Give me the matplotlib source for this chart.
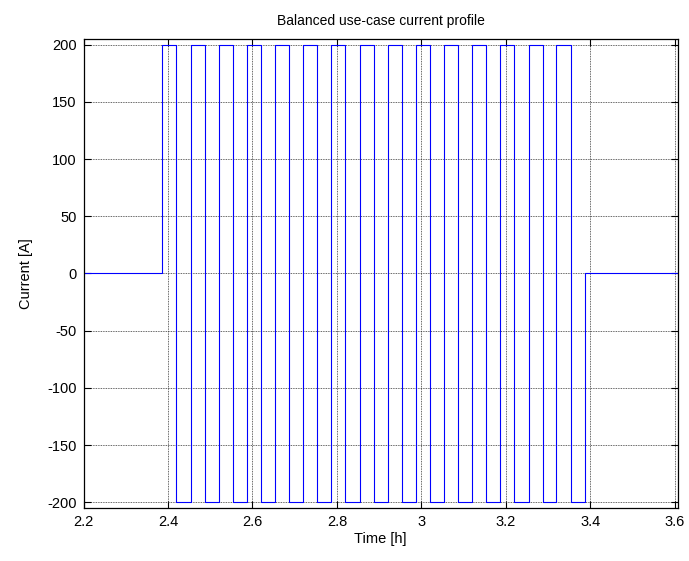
import matplotlib
matplotlib.use("Agg")
import matplotlib.pyplot as plt

# Switching instants of the current profile [h]
switch_times = [2.200, 2.387, 2.420, 2.454, 2.487, 2.520, 2.554, 2.587, 2.620,
                2.654, 2.687, 2.720, 2.754, 2.787, 2.820, 2.854, 2.887, 2.920,
                2.954, 2.987, 3.020, 3.054, 3.087, 3.120, 3.154, 3.187, 3.220,
                3.254, 3.287, 3.320, 3.354, 3.387, 3.620]
# Current held from each switching instant onward [A]
current_levels = [0, 200, -200, 200, -200, 200, -200, 200, -200,
                  200, -200, 200, -200, 200, -200, 200, -200, 200,
                  -200, 200, -200, 200, -200, 200, -200, 200, -200,
                  200, -200, 200, -200, 0, 0]

x_ticks = [2.2, 2.4, 2.6, 2.8, 3.0, 3.2, 3.4, 3.6]
x_tick_labels = ["2.2", "2.4", "2.6", "2.8", "3", "3.2", "3.4", "3.6"]
y_ticks = [-200, -150, -100, -50, 0, 50, 100, 150, 200]

plt.rcParams['font.family'] = ['Liberation Sans', 'DejaVu Sans']
plt.rcParams['font.size'] = 10
plt.rcParams['axes.unicode_minus'] = False

fig = plt.figure(figsize=(6.89, 5.61), dpi=100)
ax = fig.add_axes([0.1212, 0.0945, 0.8624, 0.836])

ax.plot(switch_times, current_levels, drawstyle='steps-post',
        color='#0000ff', linewidth=0.8)

ax.set_xlim(2.2, 3.607)
ax.set_ylim(-205, 205)
ax.set_xticks(x_ticks)
ax.set_xticklabels(x_tick_labels)
ax.set_yticks(y_ticks)

ax.grid(True, color='#333333', linestyle=(0, (1, 1)), linewidth=0.6)
ax.set_axisbelow(True)
ax.tick_params(direction='in', length=5, width=0.8, top=True, right=True,
               labelsize=10.5, colors='black', pad=5)
for sp in ax.spines.values():
    sp.set_linewidth(0.9)
    sp.set_color('black')

ax.set_title("Balanced use-case current profile", fontsize=10, pad=10)
ax.set_xlabel("Time [h]", fontsize=10.5, labelpad=2)
ax.set_ylabel("Current [A]", fontsize=10.5, labelpad=10)

fig.savefig("out.png", dpi=100)
